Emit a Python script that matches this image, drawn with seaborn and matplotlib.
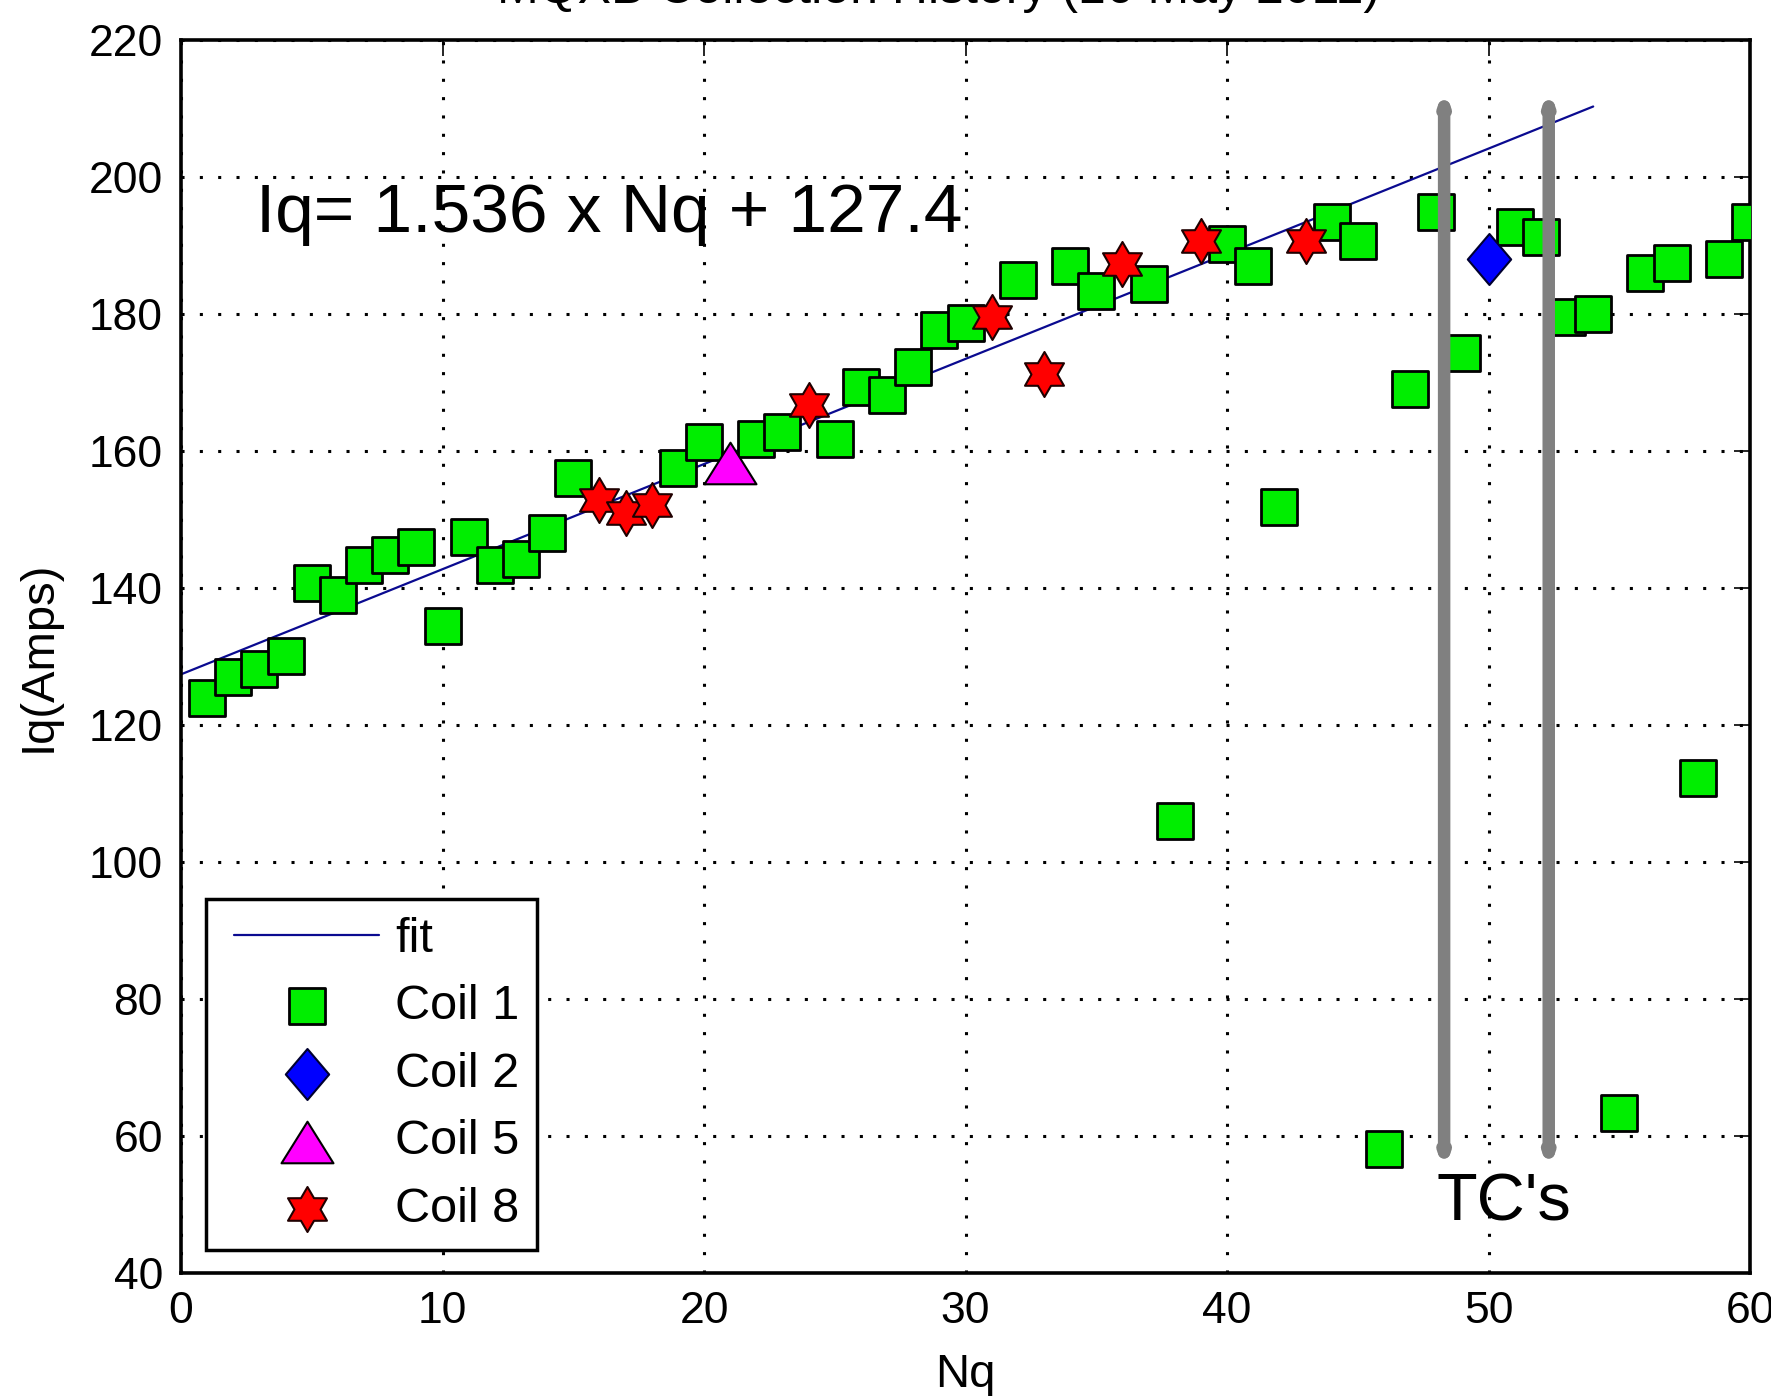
import numpy as np
import matplotlib
matplotlib.use("Agg")
import matplotlib.pyplot as plt
from matplotlib.path import Path
from matplotlib.lines import Line2D
from matplotlib.collections import PathCollection
from matplotlib.legend_handler import HandlerLine2D, HandlerPathCollection
import seaborn as sns

# ---------------- data ----------------
coil1_x = [1, 2, 3, 4, 5, 6, 7, 8, 9, 10, 11, 12, 13, 14, 15, 19, 20, 22, 23, 25,
           26, 27, 28, 29, 30, 32, 34, 35, 37, 38, 40, 41, 42, 44, 45, 46, 47, 48,
           49, 51, 52, 53, 54, 55, 56, 57, 58, 59, 60]
coil1_y = [123.9, 127.0, 128.2, 130.1, 140.7, 139.0, 143.3, 144.8, 146.0, 134.4,
           147.5, 143.4, 144.3, 148.0, 156.0, 157.5, 161.3, 161.8, 162.8, 161.8,
           169.3, 168.2, 172.3, 177.6, 178.7, 185.0, 187.0, 183.3, 184.4, 106.0,
           190.3, 187.0, 151.8, 193.5, 190.7, 58.1, 169.1, 194.9, 174.3, 192.7,
           191.2, 179.6, 180.0, 63.4, 186.0, 187.5, 112.2, 188.1, 193.4]
coil2_x = [50]
coil2_y = [188.0]
coil5_x = [21]
coil5_y = [158.2]
coil8_x = [16, 17, 18, 24, 31, 33, 36, 39, 43]
coil8_y = [152.8, 150.9, 152.1, 166.7, 179.6, 171.3, 187.3, 190.7, 190.6]

fit_x = [0, 54]
fit_y = [127.4, 210.3]

tc_x = [48.3, 52.3]
tc_bottom = 54.8
tc_top = 213.1

equation = "Iq= 1.536 x Nq + 127.4"
title = "MQXB Collection History (16 May 2011)"
xticks = [0, 10, 20, 30, 40, 50, 60]
yticks = [40, 60, 80, 100, 120, 140, 160, 180, 200, 220]

# ---------------- style ----------------
sns.set_style("white")
plt.rcParams["font.family"] = ["Liberation Sans", "DejaVu Sans"]
plt.rcParams["text.color"] = "black"
plt.rcParams["axes.labelcolor"] = "black"
plt.rcParams["xtick.color"] = "black"
plt.rcParams["ytick.color"] = "black"

fig = plt.figure(figsize=(17.71, 13.96), dpi=100)
fig.patch.set_facecolor("white")
ax = fig.add_axes([0.1022, 0.0881, 0.886, 0.8832])
ax.set_facecolor("white")

# custom marker shapes
ang_o = np.deg2rad(90 + 60 * np.arange(6))
ang_i = np.deg2rad(120 + 60 * np.arange(6))
hv = []
for ao, ai in zip(ang_o, ang_i):
    hv.append((np.cos(ao), np.sin(ao)))
    hv.append((0.58 * np.cos(ai), 0.58 * np.sin(ai)))
hv.append(hv[0])
hexagram = Path(hv, closed=True)
diamond = Path([(0, 1), (0.85, 0), (0, -1), (-0.85, 0), (0, 1)], closed=True)
triangle = Path([(0, 0.8), (1, -0.8), (-1, -0.8), (0, 0.8)], closed=True)

# fit line
sns.lineplot(x=fit_x, y=fit_y, ax=ax, color="#0a0a90", lw=1.6, label="fit", zorder=2)

sns.scatterplot(x=coil1_x, y=coil1_y, ax=ax, marker="s", s=700, color="#00EE00",
                edgecolor="black", linewidth=2.0, label="Coil 1", zorder=3)
sns.scatterplot(x=coil2_x, y=coil2_y, ax=ax, marker=diamond, s=1350, color="#0000FF",
                edgecolor="#000030", linewidth=1.5, label="Coil 2", zorder=4)
sns.scatterplot(x=coil5_x, y=coil5_y, ax=ax, marker=triangle, s=1400, color="#FF00FF",
                edgecolor="black", linewidth=1.5, label="Coil 5", zorder=4)
sns.scatterplot(x=coil8_x, y=coil8_y, ax=ax, marker=hexagram, s=1050, color="#FF0000",
                edgecolor="#200000", linewidth=1.5, label="Coil 8", zorder=5)

# TC arrows
for xv in tc_x:
    ax.annotate("", xy=(xv, tc_bottom), xytext=(xv, tc_top),
                arrowprops=dict(arrowstyle="<|-|>,head_length=0.35,head_width=0.12",
                                color="#808080", lw=9, shrinkA=0, shrinkB=0),
                zorder=6)

ax.text(2.85, 192, equation, fontsize=50, ha="left", va="baseline", zorder=7)
ax.text(48.0, 47.7, "TC's", fontsize=48, ha="left", va="baseline", zorder=7)

ax.set_xlim(0, 60)
ax.set_ylim(40, 220)
ax.set_xticks(xticks)
ax.set_yticks(yticks)
ax.grid(True, color="black", linestyle=(0, (1, 5)), linewidth=2.2)
ax.set_axisbelow(True)
for sp in ax.spines.values():
    sp.set_visible(True)
    sp.set_color("black")
    sp.set_linewidth(2.6)
ax.tick_params(direction="in", length=11.5, width=1.2, top=True, right=True,
               labelsize=32, pad=13, colors="black")
ax.set_xlabel("Nq", fontsize=34, labelpad=15)
ax.set_ylabel("Iq(Amps)", fontsize=34, labelpad=20)

handles, labels = ax.get_legend_handles_labels()
order = ["fit", "Coil 1", "Coil 2", "Coil 5", "Coil 8"]
hmap = dict(zip(labels, handles))
xpad = 0.2
leg = ax.legend([hmap[k] for k in order], order, loc="lower left",
                bbox_to_anchor=(0.0159, 0.0187), borderaxespad=0, fontsize=35,
                frameon=True, fancybox=False, framealpha=1, edgecolor="black",
                handlelength=3.0 + xpad, handletextpad=0.32, labelspacing=0.465,
                borderpad=0.37, scatterpoints=1,
                handler_map={Line2D: HandlerLine2D(xpad=xpad),
                             PathCollection: HandlerPathCollection(xpad=xpad)})
leg.get_frame().set_linewidth(2.5)
leg.set_zorder(10)

fig.text(938 / 1771, 1 - 3 / 1396, title, fontsize=36, ha="center", va="baseline")

fig.savefig("out.png", dpi=100, facecolor="white")
